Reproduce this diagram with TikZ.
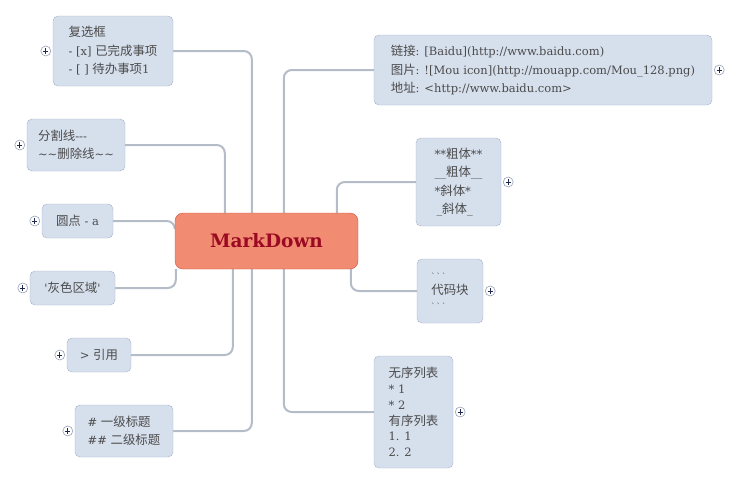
\documentclass[tikz,border=0pt]{standalone}
\usepackage{fontspec}
\setmainfont{DejaVu Serif}
\newfontfamily\hanfont{Noto Sans CJK SC}[Scale=1.08]
\newcommand\han[1]{{\hanfont #1}}
\usetikzlibrary{backgrounds}
\definecolor{leaffill}{RGB}{214,223,236}
\definecolor{leafline}{RGB}{166,178,198}
\definecolor{leaftext}{RGB}{75,75,75}
\definecolor{branchgrey}{RGB}{180,188,200}
\definecolor{foldline}{RGB}{150,160,180}
\definecolor{plusblue}{RGB}{30,40,80}
\definecolor{rootfill}{RGB}{241,139,113}
\definecolor{rootline}{RGB}{205,85,65}
\definecolor{roottext}{RGB}{155,10,35}

\begin{document}
\begin{tikzpicture}[x=1pt,y=-1pt,
  leaf/.style={draw=leafline,fill=leaffill,rounded corners=5pt,align=left,text=leaftext,
    font=\fontsize{11.5}{18.5}\selectfont,inner sep=0pt},
  fold/.style={circle,draw=foldline,fill=white,line width=0.6pt,minimum size=10pt,inner sep=0pt,
    path picture={\draw[plusblue,line width=0.7pt]
      ([xshift=-2.6pt]path picture bounding box.center) -- ([xshift=2.6pt]path picture bounding box.center)
      ([yshift=-2.6pt]path picture bounding box.center) -- ([yshift=2.6pt]path picture bounding box.center);}},
  branch/.style={draw=branchgrey,line width=2pt,rounded corners=8pt}]
  \useasboundingbox (0,0) rectangle (740,485);
  \node[draw=rootline,fill=rootfill,rounded corners=8pt,minimum width=183pt,minimum height=56pt,
    font=\fontsize{18.5}{20}\selectfont\bfseries,text=roottext] (md) at (266.5,241) {MarkDown};

  \node[leaf,minimum width=120pt,minimum height=70pt] (chk) at (113,51)
    {\han{复选框}\\- [x] \han{已完成事项}\\- [ ] \han{待办事项}1};
  \node[leaf,minimum width=98pt,minimum height=52pt] (hr) at (76,145)
    {\han{分割线}-\kern0pt-\kern0pt-\\\textasciitilde\textasciitilde\han{删除线}\textasciitilde\textasciitilde};
  \node[leaf,minimum width=71pt,minimum height=34pt] (dot) at (77.5,221) {\han{圆点} - a};
  \node[leaf,minimum width=85pt,minimum height=34pt] (grey) at (72.5,288)
    {\textquotesingle\han{灰色区域}\textquotesingle};
  \node[leaf,minimum width=64pt,minimum height=34pt] (quote) at (99,355) {> \han{引用}};
  \node[leaf,minimum width=98pt,minimum height=52pt] (head) at (124,431)
    {\# \han{一级标题}\\\#\# \han{二级标题}};

  \node[leaf,minimum width=338pt,minimum height=70pt] (url) at (543,70)
    {\han{链接}: [Baidu](http://www.baidu.com)\\\han{图片}: ![Mou icon](http://mouapp.com/Mou\_128.png)\\\han{地址}: <http://www.baidu.com>};
  \node[leaf,minimum width=85pt,minimum height=88pt] (bold) at (458.5,182)
    {**\han{粗体}**\\\_\_\han{粗体}\_\_\\*\han{斜体}*\\\,\_\han{斜体}\_};
  \node[leaf,minimum width=66pt,minimum height=64pt,font=\fontsize{11.5}{15}\selectfont] (code) at (450,291)
    {{\footnotesize\textasciigrave\,\textasciigrave\,\textasciigrave}\\\han{代码块}\\{\footnotesize\textasciigrave\,\textasciigrave\,\textasciigrave}};
  \node[leaf,minimum width=79pt,minimum height=112pt,font=\fontsize{11.5}{15.7}\selectfont] (list) at (413.5,412)
    {\han{无序列表}\\{}* 1\\{}* 2\\\han{有序列表}\\1. 1\\2. 2};

  \node[fold] (chkfold) at ([xshift=-7pt]chk.west) {};
  \node[fold] (hrfold) at ([xshift=-7pt]hr.west) {};
  \node[fold] (dotfold) at ([xshift=-7pt]dot.west) {};
  \node[fold] (greyfold) at ([xshift=-7pt]grey.west) {};
  \node[fold] (quotefold) at ([xshift=-7pt]quote.west) {};
  \node[fold] (headfold) at ([xshift=-7pt]head.west) {};
  \node[fold] (urlfold) at ([xshift=7pt]url.east) {};
  \node[fold] (boldfold) at ([xshift=7pt]bold.east) {};
  \node[fold] (codefold) at ([xshift=7pt]code.east) {};
  \node[fold] (listfold) at ([xshift=7pt]list.east) {};

  \begin{scope}[on background layer]
    \draw[branch] (chk.east) -| ([xshift=77pt]md.north west);
    \draw[branch] (hr.east) -| ([xshift=50pt]md.north west);
    \draw[branch] (dot.east) -| ([yshift=-14pt]md.north west);
    \draw[branch] (grey.east) -| ([xshift=1pt]md.south west);
    \draw[branch] (quote.east) -| ([xshift=58pt]md.south west);
    \draw[branch] (head.east) -| ([xshift=77pt]md.south west);
    \draw[branch] (url.west) -| ([xshift=109pt]md.north west);
    \draw[branch] (bold.west) -| ([xshift=162pt]md.north west);
    \draw[branch] (code.west) -| ([xshift=176pt]md.south west);
    \draw[branch] (list.west) -| ([xshift=109pt]md.south west);
  \end{scope}
\end{tikzpicture}
\end{document}
